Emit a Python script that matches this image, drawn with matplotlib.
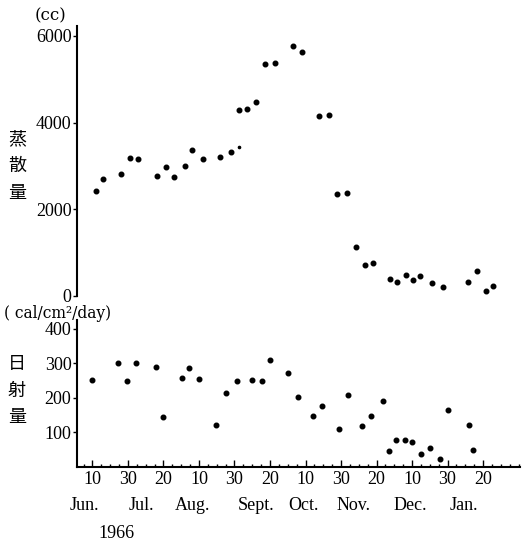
import matplotlib
matplotlib.use("Agg")
import matplotlib.pyplot as plt
from matplotlib.ticker import MultipleLocator

plt.rcParams['font.family'] = ['Liberation Serif', 'Noto Sans CJK JP', 'DejaVu Sans']

# Evaporation (cc), x = day index (Jun 10 = 10)
evap_day = [12, 16, 26, 31, 35.5, 46.5, 51.5, 56, 62, 66, 72, 82, 88, 92.5, 97, 102,
            107, 113, 123, 128, 137.5, 143, 148, 153.5, 158.5, 163.5, 168, 177.5,
            181.5, 186.5, 190.5, 194.5, 201, 207.5, 221.5, 226.5, 231.5, 235.5]
evap_val = [2420, 2700, 2815, 3185, 3160, 2770, 2975, 2745, 3000, 3370, 3160, 3210,
            3320, 4290, 4315, 4475, 5355, 5375, 5770, 5630, 4155, 4175, 2355, 2375,
            1130, 715, 760, 390, 325, 485, 370, 460, 300, 210, 325, 575, 115, 230]
evap_faint_day = [92.5]
evap_faint_val = [3440]

# Solar radiation (cal/cm2/day)
rad_day = [10, 24.5, 29.5, 34.5, 46, 50, 60.5, 64.5, 70, 79.5, 85, 91.5, 100, 105.5,
           110, 120, 126, 134, 139.5, 149, 154, 162, 167, 173.5, 177, 181, 186, 190,
           195, 200, 206, 210, 222, 224.5]
rad_val = [252, 301, 249, 301, 290, 145, 258, 287, 255, 122, 214, 249, 252, 249,
           310, 272, 203, 148, 177, 110, 209, 119, 148, 191, 46, 78, 78, 72, 38, 55,
           23, 165, 122, 49]

xtick_pos = [10, 30, 50, 70, 90, 110, 130, 150, 170, 190, 210, 230]
xtick_lab = ['10', '30', '20', '10', '30', '20', '10', '30', '20', '10', '30', '20']
month_lab = ['Jun.', 'Jul.', 'Aug.', 'Sept.', 'Oct.', 'Nov.', 'Dec.', 'Jan.']
month_pos = [5.2, 37.3, 66.6, 102.1, 128.6, 157.3, 188.9, 219.3]

W, H = 523, 545
fig = plt.figure(figsize=(W / 100, H / 100), dpi=100)

def ax_rect(x0, y0, x1, y1):
    return [x0 / W, 1 - y1 / H, (x1 - x0) / W, (y1 - y0) / H]

xlim = (1.3, 250.8)
fs = 13

ax1 = fig.add_axes(ax_rect(77, 26, 520, 296))
ax1.plot(evap_day, evap_val, 'o', color='black', markersize=3.3, linestyle='none')
ax1.plot(evap_faint_day, evap_faint_val, 'o', color='black', markersize=1.6, linestyle='none')
ax1.set_xlim(*xlim)
ax1.set_ylim(0, 6230)
ax1.set_yticks([0, 2000, 4000, 6000])
ax1.tick_params(axis='y', direction='out', length=3, width=1, labelsize=fs, pad=1)
ax1.set_xticks([])
for s in ['top', 'right', 'bottom']:
    ax1.spines[s].set_visible(False)
ax1.spines['left'].set_linewidth(1.5)

ax2 = fig.add_axes(ax_rect(77, 320, 520, 467))
ax2.plot(rad_day, rad_val, 'o', color='black', markersize=3.3, linestyle='none')
ax2.set_xlim(*xlim)
ax2.set_ylim(0, 426)
ax2.set_yticks([100, 200, 300, 400])
ax2.tick_params(axis='y', direction='out', length=3, width=1, labelsize=fs, pad=1)
ax2.set_xticks(xtick_pos)
ax2.set_xticklabels(xtick_lab)
ax2.xaxis.set_minor_locator(MultipleLocator(5))
ax2.tick_params(axis='x', which='major', direction='in', length=5, width=1, labelsize=fs, pad=3)
ax2.tick_params(axis='x', which='minor', direction='in', length=2.5, width=1)
for s in ['top', 'right']:
    ax2.spines[s].set_visible(False)
ax2.spines['left'].set_linewidth(1.5)
ax2.spines['bottom'].set_linewidth(1.5)

# month labels
for lab, d in zip(month_lab, month_pos):
    xp = 92.5 + (d - 10) * 1.775
    fig.text(xp / W, 1 - 505 / H, lab, ha='center', va='center', fontsize=fs)
fig.text(116 / W, 1 - 534 / H, '1966', ha='center', va='center', fontsize=fs)

# unit labels
fig.text(50 / W, 1 - 16 / H, '(cc)', ha='center', va='center', fontsize=12,
         family=['DejaVu Serif'])
fig.text(4 / W, 1 - 313.5 / H, '( cal/cm²/day)', ha='left', va='center', fontsize=11.2,
         family=['DejaVu Serif'])

# vertical CJK labels
for ch, y in zip(['蒸', '散', '量'], [139, 166, 193]):
    fig.text(17 / W, 1 - y / H, ch, ha='center', va='center', fontsize=13,
             family=['Noto Sans CJK JP'])
for ch, y in zip(['日', '射', '量'], [364, 391, 417]):
    fig.text(17 / W, 1 - y / H, ch, ha='center', va='center', fontsize=13,
             family=['Noto Sans CJK JP'])

fig.savefig('out.png', dpi=100)
